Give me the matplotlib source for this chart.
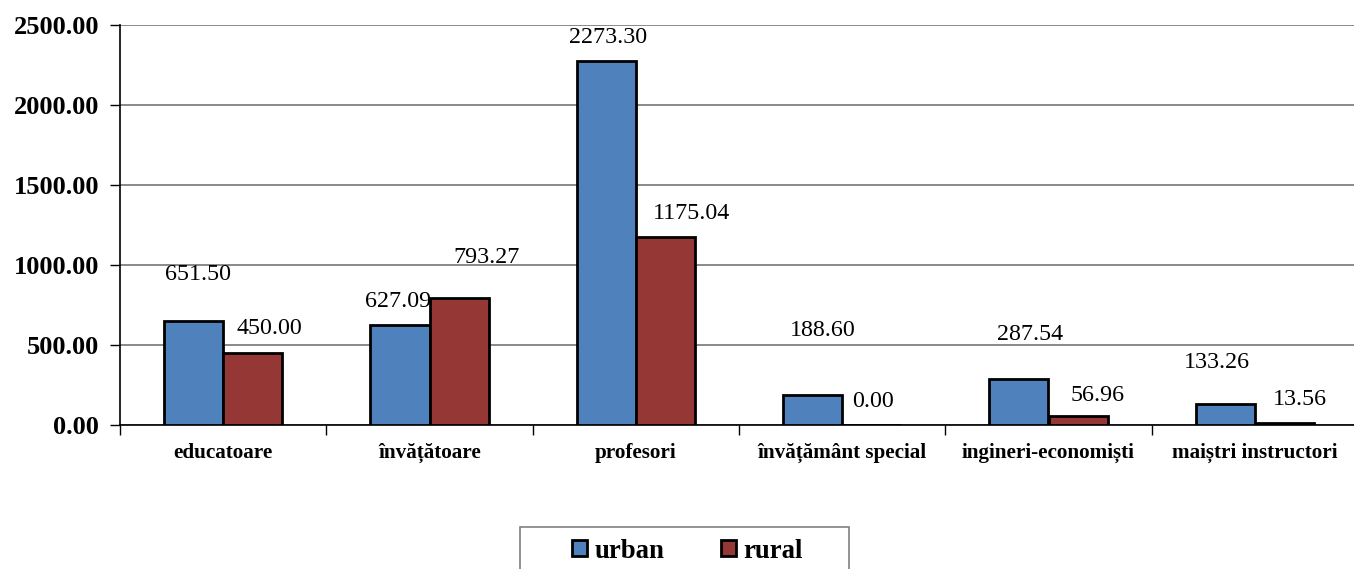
import numpy as np
import matplotlib
matplotlib.use("Agg")
import matplotlib.pyplot as plt
from matplotlib.patches import Patch, Rectangle

plt.rcParams['font.family'] = ['Liberation Serif', 'DejaVu Serif']

categories = ['educatoare', 'învățătoare', 'profesori', 'învățământ special',
              'ingineri-economiști', 'maiștri instructori']
urban = [651.50, 627.09, 2273.30, 188.60, 287.54, 133.26]
rural = [450.00, 793.27, 1175.04, 0.00, 56.96, 13.56]
yticks = [0, 500, 1000, 1500, 2000, 2500]

# label offsets (points) as Excel left them
off_urban = [(3, -33), (-1, -17), (1, -17), (7, -46), (8, -32), (-6, -30)]
off_rural = [(12, -18), (20, -29), (19, -17), (1, -17), (14, -15), (11, -17)]

BLUE = '#4F81BD'
RED = '#953735'

W, H = 1354, 569
fig = plt.figure(figsize=(W/100, H/100), dpi=100)
ax = fig.add_axes([120/W, 1-425/H, (1358-120)/W, 400/H])

x = np.arange(len(categories))
bw = 0.287
b1 = ax.bar(x - bw/2, urban, bw, color=BLUE, edgecolor='black', linewidth=2, zorder=3)
b2 = ax.bar(x + bw/2, rural, bw, color=RED, edgecolor='black', linewidth=2, zorder=3)

for bars, vals, offs in [(b1, urban, off_urban), (b2, rural, off_rural)]:
    for b, v, (dx, dy) in zip(bars, vals, offs):
        ax.annotate('%.2f' % v, (b.get_x() + b.get_width()/2, v),
                    xytext=(dx, -dy), textcoords='offset points',
                    ha='center', va='center', fontsize=17.3, zorder=4)

ax.set_ylim(0, 2500)
ax.set_xlim(-0.5, len(categories) - 0.5)
ax.set_yticks(yticks)
ax.set_yticklabels(['%.2f' % t for t in yticks], fontsize=19, fontweight='bold')
ax.yaxis.grid(True, color='#808080', linewidth=1.3, zorder=0)
ax.set_xticks(np.arange(len(categories) + 1) - 0.5)
ax.set_xticklabels([])
ax.set_xticks(x, minor=True)
ax.set_xticklabels(categories, minor=True, fontsize=15.2, fontweight='bold')
ax.tick_params(axis='x', which='minor', length=0, pad=13)
ax.tick_params(axis='x', which='major', length=7, width=1, direction='out')
ax.tick_params(axis='y', length=7, width=1, direction='out', pad=8)
for s in ['top', 'right']:
    ax.spines[s].set_visible(False)
ax.spines['left'].set_linewidth(1.2)
ax.spines['bottom'].set_linewidth(1.2)

# legend box, cut by the bottom edge like the original
fig.patches.append(Rectangle((520/W, -0.1), 329/W, 0.1 + 1 - 527/H,
                             transform=fig.transFigure, facecolor='white',
                             edgecolor='#808080', linewidth=1.2))
handles = [Patch(facecolor=BLUE, edgecolor='black', linewidth=2, label='urban'),
           Patch(facecolor=RED, edgecolor='black', linewidth=2, label='rural')]
fig.legend(handles=handles, loc='center left',
           bbox_to_anchor=(572/W, 1-551/H), ncol=2, frameon=False,
           prop={'size': 19.3, 'weight': 'bold'},
           handlelength=0.55, handleheight=0.55, handletextpad=0.3,
           columnspacing=2.1, borderpad=0, borderaxespad=0)

fig.savefig('out.png', dpi=100)
